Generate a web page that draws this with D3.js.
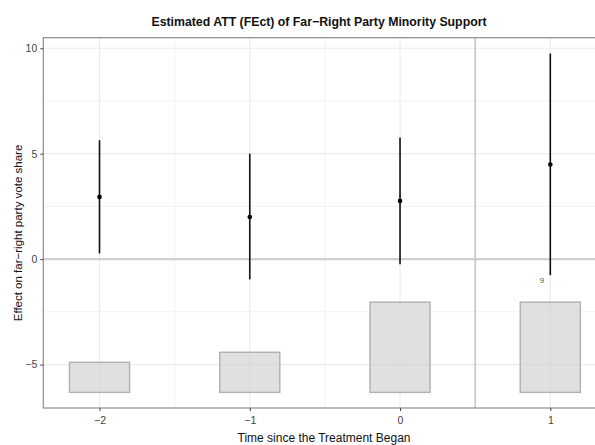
<!DOCTYPE html>
<html>
<head>
<meta charset="utf-8">
<script src="https://cdn.jsdelivr.net/npm/d3@7"></script>
<style>
  html, body { margin: 0; padding: 0; background: #fff; }
  svg { display: block; font-family: "Liberation Sans", Arial, sans-serif; }
</style>
</head>
<body>
<svg id="chart" width="595" height="445"></svg>
<script>
// Event-time periods relative to treatment onset
const periods = [-2, -1, 0, 1];
// Estimated ATT and 95% confidence bounds per period
const att      = [2.95, 2.00, 2.76, 4.49];
const ciLower  = [0.27, -0.96, -0.24, -0.76];
const ciUpper  = [5.64, 5.00, 5.77, 9.75];
// Number of treated units observed in each period
const counts   = [3, 4, 9, 9];
// Axis ticks
const yTicks = [-5, 0, 5, 10];
const xTicks = [-2, -1, 0, 1];
const xMinor = [-1.5, -0.5, 0.5];
const yMinor = [-2.5, 2.5, 7.5];

const svg = d3.select("#chart");

const x = d3.scaleLinear().domain([-2.374, 1.374]).range([43.3, 606.5]);
const y = d3.scaleLinear().domain([-7.06, 10.5]).range([408, 37.7]);

// Count bars live in the lower band of the panel
const barBase = -6.32, barMaxHeight = 4.28, barHalf = 0.2;
const maxCount = d3.max(counts);
const barTop = c => barBase + barMaxHeight * c / maxCount;

const minus = v => String(v).replace("-", "\u2212");

// Grid
const grid = svg.append("g");
grid.selectAll("line.ymin").data(yMinor).join("line")
  .attr("x1", x.range()[0]).attr("x2", 595)
  .attr("y1", d => y(d)).attr("y2", d => y(d))
  .attr("stroke", "#f2f2f2").attr("stroke-width", 1);
grid.selectAll("line.xmin").data(xMinor).join("line")
  .attr("y1", y.range()[0]).attr("y2", y.range()[1])
  .attr("x1", d => x(d)).attr("x2", d => x(d))
  .attr("stroke", "#f2f2f2").attr("stroke-width", 1);
grid.selectAll("line.ymaj").data(yTicks).join("line")
  .attr("x1", x.range()[0]).attr("x2", 595)
  .attr("y1", d => y(d)).attr("y2", d => y(d))
  .attr("stroke", "#ebebeb").attr("stroke-width", 1.2);
grid.selectAll("line.xmaj").data(xTicks).join("line")
  .attr("y1", y.range()[0]).attr("y2", y.range()[1])
  .attr("x1", d => x(d)).attr("x2", d => x(d))
  .attr("stroke", "#ebebeb").attr("stroke-width", 1.2);

// Reference lines: zero effect and treatment onset
svg.append("line")
  .attr("x1", x.range()[0]).attr("x2", 595)
  .attr("y1", y(0)).attr("y2", y(0))
  .attr("stroke", "#cfcfcf").attr("stroke-width", 2.2);
svg.append("line")
  .attr("x1", x(0.5)).attr("x2", x(0.5))
  .attr("y1", y.range()[0]).attr("y2", y.range()[1])
  .attr("stroke", "#c8c8c8").attr("stroke-width", 1.6);

// Count bars
svg.append("g").selectAll("rect").data(periods).join("rect")
  .attr("x", d => x(d - barHalf))
  .attr("width", d => x(d + barHalf) - x(d - barHalf))
  .attr("y", (d, i) => y(barTop(counts[i])))
  .attr("height", (d, i) => y(barBase) - y(barTop(counts[i])))
  .attr("fill", "#d0d0d0").attr("fill-opacity", 0.65)
  .attr("stroke", "#b0b0b0").attr("stroke-width", 1.4);

// Label for the largest count
const iMax = counts.indexOf(maxCount, 3);
svg.append("text")
  .attr("x", x(periods[iMax] - 0.056))
  .attr("y", y(-0.97) + 3)
  .attr("text-anchor", "middle")
  .attr("font-size", 8).attr("fill", "#555")
  .text(maxCount);

// Confidence intervals and point estimates
svg.append("g").selectAll("line").data(periods).join("line")
  .attr("x1", d => x(d)).attr("x2", d => x(d))
  .attr("y1", (d, i) => y(ciLower[i])).attr("y2", (d, i) => y(ciUpper[i]))
  .attr("stroke", "#111").attr("stroke-width", 1.6);
svg.append("g").selectAll("circle").data(periods).join("circle")
  .attr("cx", d => x(d)).attr("cy", (d, i) => y(att[i]))
  .attr("r", 2.3).attr("fill", "#000");

// Panel border
svg.append("rect")
  .attr("x", x.range()[0]).attr("y", y.range()[1])
  .attr("width", x.range()[1] - x.range()[0])
  .attr("height", y.range()[0] - y.range()[1])
  .attr("fill", "none").attr("stroke", "#8c8c8c").attr("stroke-width", 1.2);

// Axes
const yAxis = svg.append("g")
  .attr("transform", `translate(${x.range()[0]},0)`)
  .call(d3.axisLeft(y).tickValues(yTicks).tickSize(3).tickPadding(3).tickFormat(minus));
yAxis.select(".domain").remove();
yAxis.selectAll(".tick line").attr("stroke", "#444");
yAxis.selectAll(".tick text").attr("font-size", 10.5).attr("fill", "#444")
  .attr("font-family", "Liberation Sans, Arial, sans-serif");

const xAxis = svg.append("g")
  .attr("transform", `translate(0,${y.range()[0]})`)
  .call(d3.axisBottom(x).tickValues(xTicks).tickSize(3).tickPadding(6).tickFormat(minus));
xAxis.select(".domain").remove();
xAxis.selectAll(".tick line").attr("stroke", "#444");
xAxis.selectAll(".tick text").attr("font-size", 10.5).attr("fill", "#444")
  .attr("font-family", "Liberation Sans, Arial, sans-serif");

// Titles
svg.append("text")
  .attr("x", 319).attr("y", 26)
  .attr("text-anchor", "middle")
  .attr("font-size", 12.3).attr("font-weight", "bold").attr("fill", "#111")
  .text("Estimated ATT (FEct) of Far\u2212Right Party Minority Support");

svg.append("text")
  .attr("x", 324).attr("y", 442)
  .attr("text-anchor", "middle")
  .attr("font-size", 12).attr("fill", "#111")
  .text("Time since the Treatment Began");

svg.append("text")
  .attr("transform", "translate(22,233) rotate(-90)")
  .attr("text-anchor", "middle")
  .attr("font-size", 11.5).attr("fill", "#111")
  .text("Effect on far\u2212right party vote share");
</script>
</body>
</html>
